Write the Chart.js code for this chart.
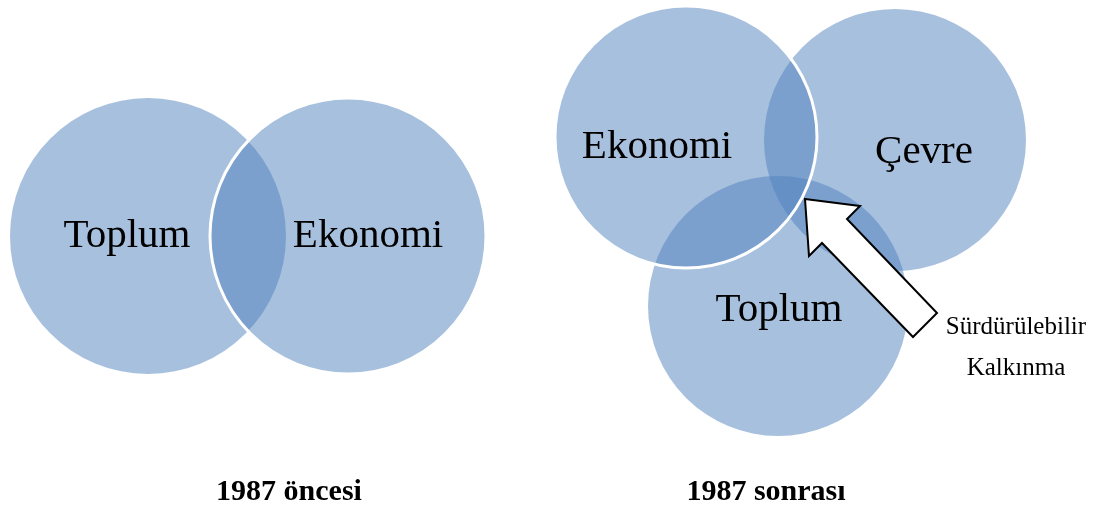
<!DOCTYPE html>
<html lang="tr">
<head>
  <meta charset="utf-8">
  <script src="https://cdn.jsdelivr.net/npm/chart.js@4.4.1/dist/chart.umd.min.js"></script>
  <style>
    body { margin: 0; background: #fff; }
  </style>
</head>
<body>
<canvas id="venn" width="1101" height="508"></canvas>

<script>
    // daireler: etiket, merkez x, merkez y, yaricap (grafik birimi)
    var daireEtiket = ['Toplum', 'Ekonomi', 'Çevre', 'Toplum', 'Ekonomi'];
    var daireX      = [148, 348, 895, 778, 686];
    var daireY      = [236, 236, 140, 306, 137];
    var daireR      = [138, 138, 131, 130, 131];
    var kenarKalin  = [0, 3, 0, 0, 3];

    // etiket konumlari (grafik birimi)
    var etiketX = [127, 368, 924, 779, 657];
    var etiketY = [236, 236, 152, 310, 147];

    // alt basliklar
    var baslik  = ['1987 öncesi', '1987 sonrası'];
    var baslikX = [289, 766];
    var baslikY = [492, 492];

    // ok ve aciklamasi
    var okX = [805, 860, 847, 937, 913, 822, 809];
    var okY = [199, 206, 219, 313, 337, 243, 256];
    var okYazi  = ['Sürdürülebilir', 'Kalkınma'];
    var okYaziX = [1016, 1016];
    var okYaziY = [327, 368];

    var noktalar = [];
    for (var i = 0; i < daireX.length; i++) {
        noktalar.push({ x: daireX[i], y: daireY[i], r: daireR[i] });
    }

    var yaziEklentisi = {
        id: 'yazilar',
        afterDatasetsDraw: function(chart) {
            var ctx = chart.ctx;
            var sx = chart.scales.x, sy = chart.scales.y;
            ctx.save();

            // ok
            ctx.beginPath();
            for (var i = 0; i < okX.length; i++) {
                var px = sx.getPixelForValue(okX[i]), py = sy.getPixelForValue(okY[i]);
                if (i === 0) ctx.moveTo(px, py); else ctx.lineTo(px, py);
            }
            ctx.closePath();
            ctx.fillStyle = '#ffffff';
            ctx.fill();
            ctx.lineWidth = 2;
            ctx.lineJoin = 'miter';
            ctx.strokeStyle = '#000000';
            ctx.stroke();

            ctx.fillStyle = '#000000';
            ctx.textAlign = 'center';
            ctx.textBaseline = 'middle';

            ctx.font = '41px "Liberation Serif", "Times New Roman", serif';
            for (var j = 0; j < daireEtiket.length; j++) {
                ctx.fillText(daireEtiket[j], sx.getPixelForValue(etiketX[j]), sy.getPixelForValue(etiketY[j]));
            }

            ctx.font = '25px "Liberation Serif", "Times New Roman", serif';
            for (var k = 0; k < okYazi.length; k++) {
                ctx.fillText(okYazi[k], sx.getPixelForValue(okYaziX[k]), sy.getPixelForValue(okYaziY[k]));
            }

            ctx.font = 'bold 30px "Liberation Serif", "Times New Roman", serif';
            for (var m = 0; m < baslik.length; m++) {
                ctx.fillText(baslik[m], sx.getPixelForValue(baslikX[m]), sy.getPixelForValue(baslikY[m]));
            }
            ctx.restore();
        }
    };

    var ctx = document.getElementById('venn').getContext('2d');
    var venn = new Chart(ctx, {
        type: 'bubble',
        data: {
            datasets: [{
                label: 'Venn',
                data: noktalar,
                backgroundColor: 'rgba(79, 129, 189, 0.5)',
                borderColor: '#ffffff',
                borderWidth: kenarKalin,
                hoverBorderWidth: kenarKalin,
                clip: false
            }]
        },
        options: {
            responsive: false,
            animation: false,
            events: [],
            layout: { padding: 0, autoPadding: false },
            plugins: {
                legend: { display: false },
                tooltip: { enabled: false }
            },
            scales: {
                x: { type: 'linear', min: 0, max: 1101, display: false },
                y: { type: 'linear', min: 0, max: 508, reverse: true, display: false }
            }
        },
        plugins: [yaziEklentisi]
    });
</script>
</body>
</html>
